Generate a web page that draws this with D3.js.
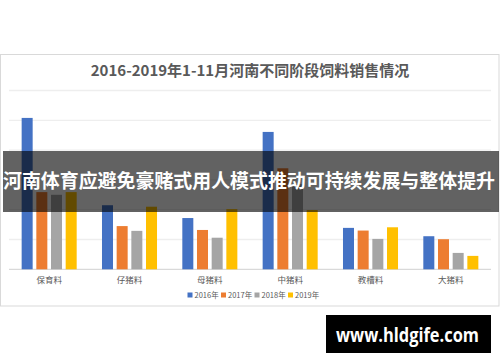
<!DOCTYPE html>
<html><head><meta charset="utf-8">
<script src="https://cdn.jsdelivr.net/npm/d3@7"></script>
<style>body{margin:0;background:#fff;}svg{display:block;}</style>
</head><body>
<svg id="c" width="500" height="362"></svg>
<script>
const categories = ["保育料","仔猪料","母猪料","中猪料","教槽料","大猪料"];
const years = ["2016年","2017年","2018年","2019年"];
const s2016 = [508, 215, 172, 461, 139, 111];
const s2017 = [259, 145, 132, 339, 130, 101];
const s2018 = [250, 129, 106, 286, 102, 55];
const s2019 = [259, 210, 202, 199, 141, 45];
const yTicks = [0,100,200,300,400,500,600];
const colors = ["#4472C4","#ED7D31","#A5A5A5","#FFC000"];
const title = "2016-2019年1-11月河南不同阶段饲料销售情况";
const banner = "河南体育应避免豪赌式用人模式推动可持续发展与整体提升";
const mark = "www.hldgife.com";

const series = [s2016, s2017, s2018, s2019];
const svg = d3.select("#c");
const font = "'Noto Sans CJK SC','Noto Sans',sans-serif";

svg.append("rect").attr("x",0.5).attr("y",54.5).attr("width",498.5).attr("height",251.5)
  .attr("fill","#fff").attr("stroke","#d9d9d9").attr("stroke-width",1);

svg.append("text").attr("x",250).attr("y",75.5).attr("text-anchor","middle")
  .attr("font-family",font).attr("font-weight","bold").attr("font-size",15)
  .attr("fill","#595959").text(title);

const x = d3.scaleBand().domain(categories).range([9,491]).paddingInner(0.315).paddingOuter(0.1575);
const xs = d3.scaleBand().domain(years).range([0,x.bandwidth()]).paddingInner(0.25);
const y = d3.scaleLinear().domain([0,600]).range([269.3,90.5]);

svg.append("g").selectAll("line").data(yTicks).join("line")
  .attr("x1",9).attr("x2",491).attr("y1",d=>y(d)).attr("y2",d=>y(d))
  .attr("stroke",d=>d===0?"#d9d9d9":"#eeeeee").attr("stroke-width",1.3);

const g = svg.append("g");
categories.forEach((c,i)=>{
  g.append("g").attr("transform",`translate(${x(c)},0)`)
   .selectAll("rect").data(years.map((yr,j)=>({yr, v:series[j][i], col:colors[j]}))).join("rect")
   .attr("x",d=>xs(d.yr)).attr("width",xs.bandwidth())
   .attr("y",d=>y(d.v)).attr("height",d=>y(0)-y(d.v))
   .attr("fill",d=>d.col);
});

const xAxis = svg.append("g").attr("transform","translate(0,269.3)")
  .call(d3.axisBottom(x).tickSize(0).tickPadding(8));
xAxis.select(".domain").remove();
xAxis.selectAll("text").attr("font-family",font).attr("font-size",8.5).attr("fill","#595959");

const leg = svg.append("g");
const legX = [187.5, 221, 254.5, 288];
years.forEach((yr,j)=>{
  leg.append("rect").attr("x",legX[j]).attr("y",292.5).attr("width",5).attr("height",5).attr("fill",colors[j]);
  leg.append("text").attr("x",legX[j]+7).attr("y",298).attr("font-family",font).attr("font-size",7.5)
    .attr("fill","#595959").text(yr);
});

svg.append("rect").attr("x",3).attr("y",151).attr("width",496).attr("height",61)
  .attr("fill","rgba(0,0,0,0.615)");
svg.append("text").attr("x",249).attr("y",188).attr("text-anchor","middle")
  .attr("font-family",font).attr("font-weight","bold").attr("font-size",19)
  .attr("fill","#fff").attr("textLength",492).attr("lengthAdjust","spacingAndGlyphs").text(banner);

svg.append("rect").attr("x",326).attr("y",315).attr("width",165).attr("height",38).attr("fill","#000");
svg.append("text").attr("x",407.5).attr("y",342).attr("text-anchor","middle")
  .attr("font-family","'Open Sans',sans-serif").attr("font-weight","bold").attr("font-size",19)
  .attr("fill","#fff").attr("textLength",143).attr("lengthAdjust","spacingAndGlyphs").text(mark);
</script>
</body></html>
